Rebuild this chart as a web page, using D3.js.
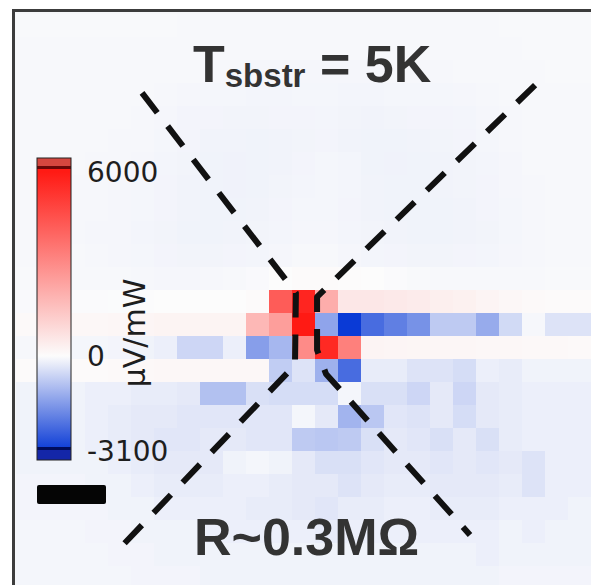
<!DOCTYPE html>
<html>
<head>
<meta charset="utf-8">
<script src="https://cdn.jsdelivr.net/npm/d3@7/dist/d3.min.js"></script>
<style>
  body { margin: 0; background: #fff; }
  svg { display: block; }
</style>
</head>
<body>
<svg id="chart" width="591" height="585"></svg>
<script>

// photovoltage map, µV/mW, 25 x 25 pixels (row 0 = top)
var mapRows = [
  [-50,-50,-50,-50,-50,-50,-50,-60,-60,-60,-60,-60,-60,-60,-60,-60,-60,-60,-60,-60,-60,-50,-50,-50,-50],
  [-60,-60,-60,-60,-60,-60,-60,-60,-70,-70,-70,-70,-70,-70,-70,-70,-70,-70,-70,-60,-60,-60,-50,-50,-50],
  [-60,-60,-60,-60,-60,-60,-70,-70,-80,-80,-90,-90,-90,-90,-90,-90,-80,-80,-80,-70,-70,-60,-60,-50,-50],
  [-70,-70,-70,-70,-70,-70,-80,-90,-100,-100,-110,-110,-100,-100,-110,-110,-100,-100,-100,-90,-80,-70,-60,-60,-60],
  [-70,-70,-70,-70,-70,-80,-90,-120,-120,-130,-130,-120,-120,-110,-130,-140,-130,-120,-120,-110,-90,-80,-70,-60,-60],
  [-70,-70,-70,-70,-80,-80,-100,-120,-140,-140,-150,-140,-130,-120,-140,-150,-150,-140,-130,-120,-100,-80,-70,-60,-60],
  [-70,-70,-70,-80,-80,-90,-110,-130,-150,-160,-150,-140,-120,-100,-110,-150,-160,-150,-140,-130,-110,-90,-70,-60,-60],
  [-70,-70,-80,-80,-90,-100,-120,-140,-150,-160,-150,-130,-110,-100,-110,-140,-150,-150,-140,-130,-120,-90,-80,-60,-60],
  [-70,-70,-80,-80,-90,-100,-120,-140,-150,-150,-140,-120,-100,-100,-120,-140,-150,-150,-150,-140,-120,-100,-80,-70,-60],
  [-70,-70,-80,-90,-90,-110,-130,-150,-150,-140,-130,-110,-90,-90,-110,-130,-140,-150,-150,-140,-130,-100,-80,-70,-70],
  [-60,-60,-70,-80,-90,-100,-120,-130,-130,-120,-110,-90,-70,-70,-90,-110,-120,-130,-130,-120,-110,-90,-80,-70,-70],
  [-50,-50,-60,-60,-70,-80,-90,-90,-80,-60,-40,0,50,60,30,0,-30,-50,-60,-70,-70,-60,-60,-50,-50],
  [-40,-40,-30,-30,-20,-10,0,0,0,0,50,4250,5700,2100,550,550,500,450,350,300,200,120,80,40,40],
  [80,100,120,120,150,180,220,220,220,220,1800,2500,6000,-1400,-3100,-2300,-2000,-1700,-800,-800,-1300,-550,-80,-400,-400],
  [-80,-80,-100,-100,-120,-150,-200,-600,-600,-200,-1500,-1100,3000,5600,3300,200,180,170,160,150,130,120,100,100,80],
  [40,40,60,60,80,100,120,120,120,120,120,-750,-400,-1200,-2300,-250,-250,-400,-400,-500,-200,-250,-150,-150,-150],
  [-150,-150,-150,-200,-200,-250,-250,-300,-950,-950,-450,-500,-500,-500,-100,-450,-450,-600,-300,-600,-300,-250,-200,-200,-200],
  [-150,-150,-150,-200,-250,-300,-300,-350,-350,-350,-350,-350,-100,-300,-1150,-850,-350,-400,-300,-500,-300,-250,-200,-200,-200],
  [-150,-150,-150,-200,-250,-300,-350,-350,-300,-300,-350,-350,-800,-850,-800,-450,-300,-350,-450,-300,-450,-250,-200,-200,-200],
  [-150,-150,-150,-150,-200,-250,-300,-300,-300,-150,-100,-150,-300,-450,-450,-350,-300,-300,-350,-300,-350,-300,-400,-200,-200],
  [-120,-120,-120,-150,-150,-200,-250,-250,-250,-200,-200,-250,-300,-300,-400,-300,-250,-250,-300,-300,-300,-250,-400,-200,-200],
  [-120,-120,-120,-120,-150,-150,-200,-200,-200,-200,-250,-250,-300,-350,-250,-250,-200,-200,-250,-250,-250,-200,-200,-200,-150],
  [-100,-100,-100,-120,-120,-150,-150,-150,-200,-200,-200,-200,-200,-250,-200,-200,-200,-200,-200,-200,-200,-150,-200,-150,-150],
  [-100,-100,-100,-100,-120,-120,-150,-150,-150,-150,-150,-150,-150,-150,-150,-150,-150,-150,-150,-150,-200,-150,-150,-150,-150],
  [-100,-100,-100,-100,-100,-120,-120,-120,-150,-150,-150,-150,-150,-150,-150,-150,-150,-150,-150,-150,-150,-120,-120,-120,-120]
];

// colour bar
var cbarTicks = [6000, 0, -3100];
var cbarTickLabels = ["6000", "0", "-3100"];
var cbarUnit = "µV/mW";

// dashed guides, in pixel-grid units [col, row]
var guideLeft = [[5.48, 3.43], [12.17, 12.13], [12.13, 15.26], [4.52, 23.22]];
var guideRight = [[22.57, 3.09], [13.09, 12.30], [13.09, 14.61], [13.48, 15.65], [19.74, 22.65]];

var titleMain = "T", titleSub = "sbstr", titleRest = " = 5K";
var bottomLabel = "R~0.3MΩ";

var svg = d3.select("#chart");
var nCols = 25, nRows = 25;

var x = d3.scaleLinear().domain([0, nCols]).range([16, 591]);
var y = d3.scaleLinear().domain([0, nRows]).range([14, 589]);

var color = d3.scaleLinear()
  .domain([-3100, 0, 6000])
  .range(["#0a3ad6", "#fcfcfc", "#ff1a14"])
  .clamp(true);

// frame background
svg.append("rect")
  .attr("x", 13).attr("y", 10)
  .attr("width", 600).attr("height", 600)
  .attr("fill", "#f6f7f9");

var cells = [];
mapRows.forEach(function(row, r) {
  row.forEach(function(v, c) {
    cells.push({r: r, c: c, v: v});
  });
});

svg.append("g")
  .selectAll("rect")
  .data(cells)
  .enter().append("rect")
  .attr("x", function(d) { return x(d.c); })
  .attr("y", function(d) { return y(d.r); })
  .attr("width", x(1) - x(0) + 0.5)
  .attr("height", y(1) - y(0) + 0.5)
  .attr("fill", function(d) { return color(d.v); });

// frame
svg.append("rect")
  .attr("x", 13.5).attr("y", 10.5)
  .attr("width", 600).attr("height", 600)
  .attr("fill", "none")
  .attr("stroke", "#3c3c3c")
  .attr("stroke-width", 3);

// dashed guides
var guide = d3.line()
  .x(function(d) { return x(d[0]); })
  .y(function(d) { return y(d[1]); });

svg.selectAll(".guide")
  .data([guideLeft, guideRight])
  .enter().append("path")
  .attr("class", "guide")
  .attr("d", guide)
  .attr("fill", "none")
  .attr("stroke", "#111")
  .attr("stroke-width", 6)
  .attr("stroke-dasharray", "25,17")
  .attr("stroke-linejoin", "round");

// colour bar
var cbY = d3.scaleLinear().domain([6000, -3100]).range([172, 451]);
var cbX = 37, cbW = 34, cbTop = 158, cbBot = 460;

var grad = svg.append("defs").append("linearGradient")
  .attr("id", "cbgrad")
  .attr("gradientUnits", "userSpaceOnUse")
  .attr("x1", 0).attr("x2", 0)
  .attr("y1", cbY(6000)).attr("y2", cbY(-3100));

[6000, 4000, 2000, 0, -1000, -2000, -3100].forEach(function(v) {
  grad.append("stop")
    .attr("offset", (cbY(v) - cbY(6000)) / (cbY(-3100) - cbY(6000)))
    .attr("stop-color", color(v));
});

var cb = svg.append("g");
cb.append("rect")
  .attr("x", cbX).attr("y", cbTop)
  .attr("width", cbW).attr("height", cbBot - cbTop)
  .attr("fill", "url(#cbgrad)");
cb.append("rect")
  .attr("x", cbX).attr("y", cbTop)
  .attr("width", cbW).attr("height", cbY(6000) - cbTop - 6)
  .attr("fill", "#d4473f");
cb.append("rect")
  .attr("x", cbX).attr("y", cbY(6000) - 6)
  .attr("width", cbW).attr("height", 3)
  .attr("fill", "#6a0808");
cb.append("rect")
  .attr("x", cbX).attr("y", cbY(-3100) - 4)
  .attr("width", cbW).attr("height", 3)
  .attr("fill", "#000c5c");
cb.append("rect")
  .attr("x", cbX).attr("y", cbY(-3100) - 1)
  .attr("width", cbW).attr("height", cbBot - cbY(-3100) + 1)
  .attr("fill", "#1426a8");
cb.append("rect")
  .attr("x", cbX).attr("y", cbTop)
  .attr("width", cbW).attr("height", cbBot - cbTop)
  .attr("fill", "none")
  .attr("stroke", "#222")
  .attr("stroke-width", 1);

cb.selectAll(".cbl")
  .data(cbarTicks)
  .enter().append("text")
  .attr("class", "cbl")
  .attr("x", 87)
  .attr("y", function(d) { return cbY(d) + 10; })
  .attr("font-family", "DejaVu Sans, sans-serif")
  .attr("font-size", 28)
  .attr("fill", "#1e1e1e")
  .text(function(d, i) { return cbarTickLabels[i]; });

cb.append("text")
  .attr("transform", "translate(145," + 333 + ") rotate(-90)")
  .attr("text-anchor", "middle")
  .attr("font-family", "DejaVu Sans, sans-serif")
  .attr("font-size", 30)
  .attr("fill", "#1e1e1e")
  .text(cbarUnit);

// scale bar
svg.append("rect")
  .attr("x", 37).attr("y", 485)
  .attr("width", 69).attr("height", 19)
  .attr("rx", 2)
  .attr("fill", "#050505");

// titles
var t = svg.append("text")
  .attr("x", 193).attr("y", 82)
  .attr("font-family", "Liberation Sans, Arial, sans-serif")
  .attr("font-weight", "bold")
  .attr("font-size", 52)
  .attr("fill", "#333");
t.append("tspan").text(titleMain);
t.append("tspan").attr("font-size", 33).attr("dy", 5).text(titleSub);
t.append("tspan").attr("dy", -5).text(titleRest);

svg.append("text")
  .attr("x", 194).attr("y", 555)
  .attr("font-family", "Liberation Sans, Arial, sans-serif")
  .attr("font-weight", "bold")
  .attr("font-size", 52)
  .attr("fill", "#333")
  .text(bottomLabel);

</script>
</body>
</html>
